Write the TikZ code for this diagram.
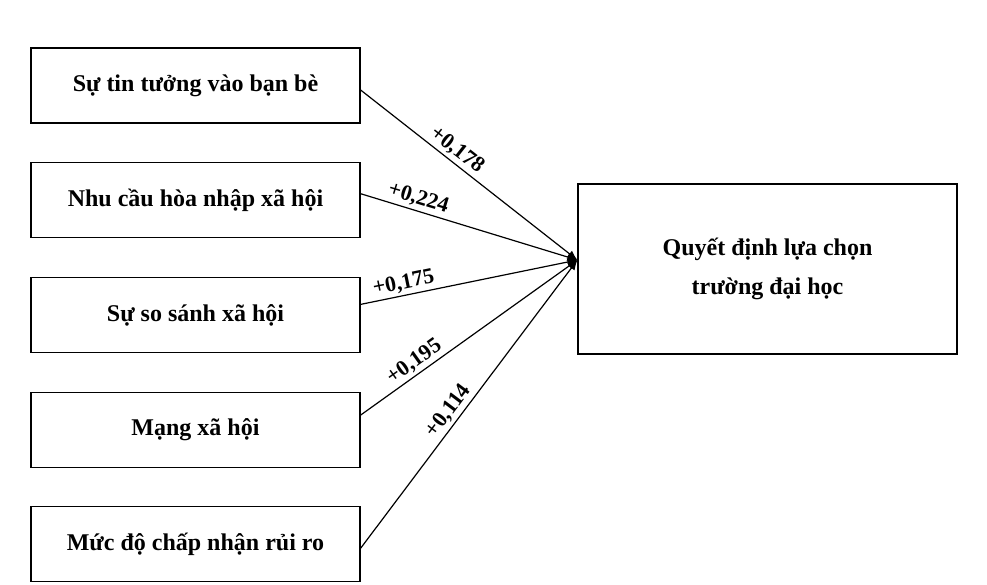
\documentclass[tikz,border=0pt]{standalone}
\usepackage{fontspec}
\setmainfont{Liberation Serif}
\usetikzlibrary{arrows.meta,positioning,calc}

\begin{document}
\begin{tikzpicture}[
    x=1pt, y=-1pt,
    node distance=38.5pt,
    factor/.style={rectangle, draw, line width=1.2pt, minimum width=329pt, minimum height=75pt, align=center, font=\fontsize{24}{28}\selectfont\bfseries},
    result/.style={rectangle, draw, line width=1.2pt, minimum width=379pt, minimum height=170pt, align=center, font=\fontsize{24}{39}\selectfont\bfseries},
    coef/.style={sloped, above, inner sep=2.5pt, font=\fontsize{22}{24}\selectfont\bfseries},
    arr/.style={-{Latex[length=10pt,width=8pt]}, line width=1.2pt},
]
    \useasboundingbox (0,0) rectangle (987,585);

    % Factors
    \node[factor] (trust) at (195.5,85.5) {Sự tin tưởng vào bạn bè};
    \node[factor, below=of trust] (social) {Nhu cầu hòa nhập xã hội};
    \node[factor, below=of social] (compare) {Sự so sánh xã hội};
    \node[factor, below=of compare] (network) {Mạng xã hội};
    \node[factor, below=of network] (risk) {Mức độ chấp nhận rủi ro};

    % Decision
    \node[result] (decision) at (767.5,269) {Quyết định lựa chọn\\trường đại học};
    \coordinate (target) at ($(decision.west)+(0,-9)$);

    % Arrows
    \draw[arr] ([yshift=-4.5pt]trust.east) -- node[coef, pos=0.41]{+0,178} (target);
    \draw[arr] ([yshift=6.5pt]social.east) -- node[coef, pos=0.25]{+0,224} (target);
    \draw[arr] ([yshift=10.5pt]compare.east) -- node[coef, pos=0.21]{+0,175} (target);
    \draw[arr] ([yshift=14.5pt]network.east) -- node[coef, pos=0.28]{+0,195} (target);
    \draw[arr] ([yshift=-4pt]risk.east) -- node[coef, pos=0.45]{+0,114} (target);
\end{tikzpicture}
\end{document}
